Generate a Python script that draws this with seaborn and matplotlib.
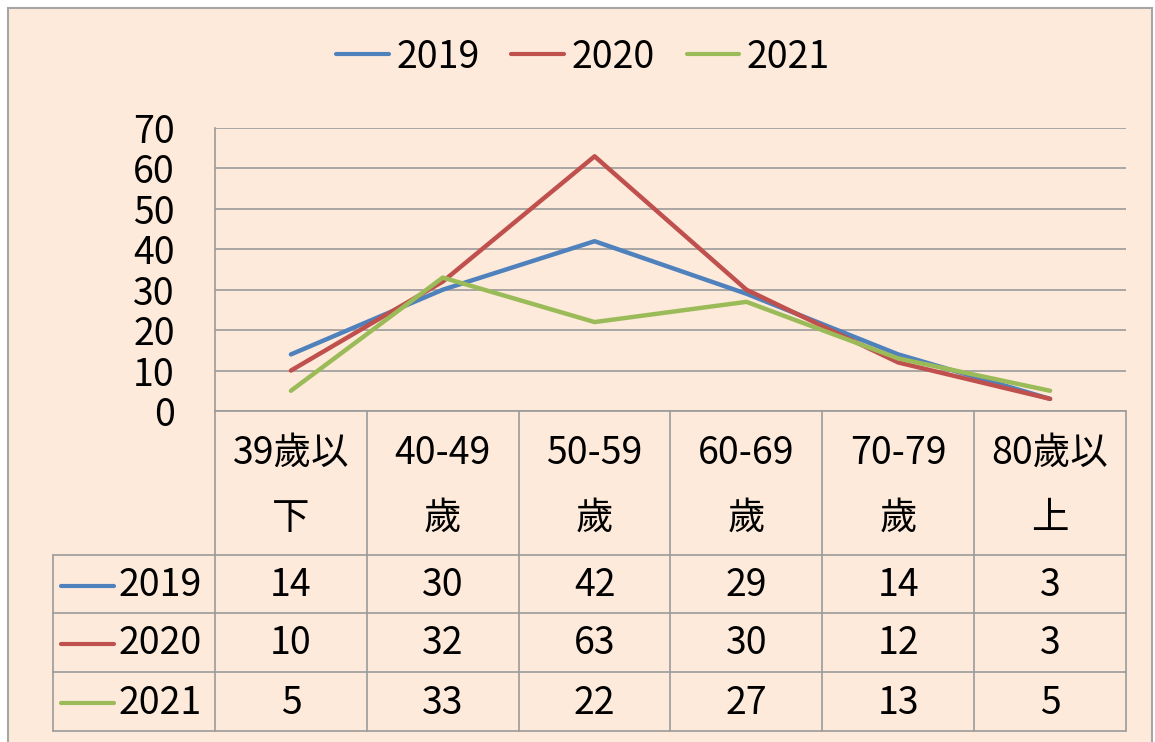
import matplotlib
matplotlib.use("Agg")
import matplotlib.pyplot as plt
from matplotlib.lines import Line2D
from matplotlib.patches import Rectangle
import seaborn as sns
import pandas as pd

# ---- data ----
categories = ["39歲以\n下", "40-49\n歲", "50-59\n歲", "60-69\n歲", "70-79\n歲", "80歲以\n上"]
years = ["2019", "2020", "2021"]
values_2019 = [14, 30, 42, 29, 14, 3]
values_2020 = [10, 32, 63, 30, 12, 3]
values_2021 = [5, 33, 22, 27, 13, 5]
y_ticks = [0, 10, 20, 30, 40, 50, 60, 70]
colors = ["#4F81BD", "#C0504D", "#9BBB59"]

series = {"2019": values_2019, "2020": values_2020, "2021": values_2021}
rows = []
for yr in years:
    for i, v in enumerate(series[yr]):
        rows.append({"pos": i, "value": v, "year": yr})
df = pd.DataFrame(rows)

sns.set_theme(style="white")
plt.rcParams["font.family"] = ["Noto Sans CJK TC", "DejaVu Sans"]
plt.rcParams["text.color"] = "black"
plt.rcParams["ytick.color"] = "black"

W, H = 1155, 742
BG = "#FDEADA"
GRID = "#9A9A9A"
FS = 27

fig = plt.figure(figsize=(W / 100, H / 100), dpi=100)
fig.patch.set_facecolor("white")

def fx(px):
    return px / W

def fy(py):
    return 1 - py / H

# background panel with border
fig.patches.append(Rectangle((fx(8), fy(748)), fx(1152) - fx(8), (748 - 8) / H,
                             transform=fig.transFigure, facecolor=BG,
                             edgecolor="#A6A6A6", lw=1.5, zorder=-10))

L, R, T, B = 215, 1126, 128, 411
ax = fig.add_axes([fx(L), fy(B), (R - L) / W, (B - T) / H])
ax.set_facecolor("none")

sns.lineplot(data=df, x="pos", y="value", hue="year", palette=colors,
             linewidth=3.2, ax=ax, legend=False, zorder=3)
for ln in ax.lines:
    ln.set_solid_capstyle("round")

ax.set_xlim(-0.5, len(categories) - 0.5)
ax.set_ylim(0, 70)
ax.set_yticks(y_ticks)
ax.set_yticklabels([str(t) for t in y_ticks])
ax.set_xticks([])
ax.set_xlabel("")
ax.set_ylabel("")
ax.yaxis.grid(True, color=GRID, lw=1.2)
ax.xaxis.grid(False)
for s in ["top", "right", "bottom"]:
    ax.spines[s].set_visible(False)
ax.spines["left"].set_color(GRID)
ax.spines["left"].set_linewidth(1.2)
ax.tick_params(axis="y", length=0, pad=29, labelsize=FS, labelcolor="black")

# ---- data table ----
TB = 731
tax = fig.add_axes([fx(L), fy(TB), (R - L) / W, (TB - B) / H])
tax.set_xlim(-0.5, len(categories) - 0.5)
tax.set_ylim(TB - B, 0)
tax.axis("off")
colw = (R - L) / len(categories)

def px2x(px):
    return -0.5 + (px - L) / colw

row_edges = [0, 144, 202, 261, 320]
x_leg = px2x(53)
kw = dict(color=GRID, lw=1.2, clip_on=False)
# horizontal lines
tax.plot([-0.5, len(categories) - 0.5], [0, 0], **kw)
for yv in row_edges[1:]:
    tax.plot([x_leg, len(categories) - 0.5], [yv, yv], **kw)
# vertical lines
for k in range(len(categories) + 1):
    tax.plot([k - 0.5, k - 0.5], [0, row_edges[-1]], **kw)
tax.plot([x_leg, x_leg], [row_edges[1], row_edges[-1]], **kw)

# header
for i, cat in enumerate(categories):
    l1, l2 = cat.split("\n")
    tax.text(i, 42, l1, ha="center", va="center", fontsize=FS, color="black", clip_on=False)
    tax.text(i, 107, l2, ha="center", va="center", fontsize=FS, color="black", clip_on=False)

# rows
for r, yr in enumerate(years):
    yc = (row_edges[r + 1] + row_edges[r + 2]) / 2 + 1.5
    tax.plot([px2x(61), px2x(114)], [yc, yc], color=colors[r], lw=3,
             solid_capstyle="round", clip_on=False)
    tax.text(px2x(119), yc, yr, ha="left", va="center", fontsize=FS, color="black", clip_on=False)
    for i, v in enumerate(series[yr]):
        tax.text(i, yc, str(v), ha="center", va="center", fontsize=FS, color="black", clip_on=False)

# ---- top legend ----
handles = [Line2D([0], [0], color=c, lw=3, solid_capstyle="round") for c in colors]
leg = fig.legend(handles, years, loc="center", bbox_to_anchor=(fx(583), fy(57)),
                 ncol=3, frameon=False, fontsize=FS, handlelength=1.4,
                 handletextpad=0.2, columnspacing=0.85)
for t in leg.get_texts():
    t.set_color("black")

fig.savefig("out.png", dpi=100)
